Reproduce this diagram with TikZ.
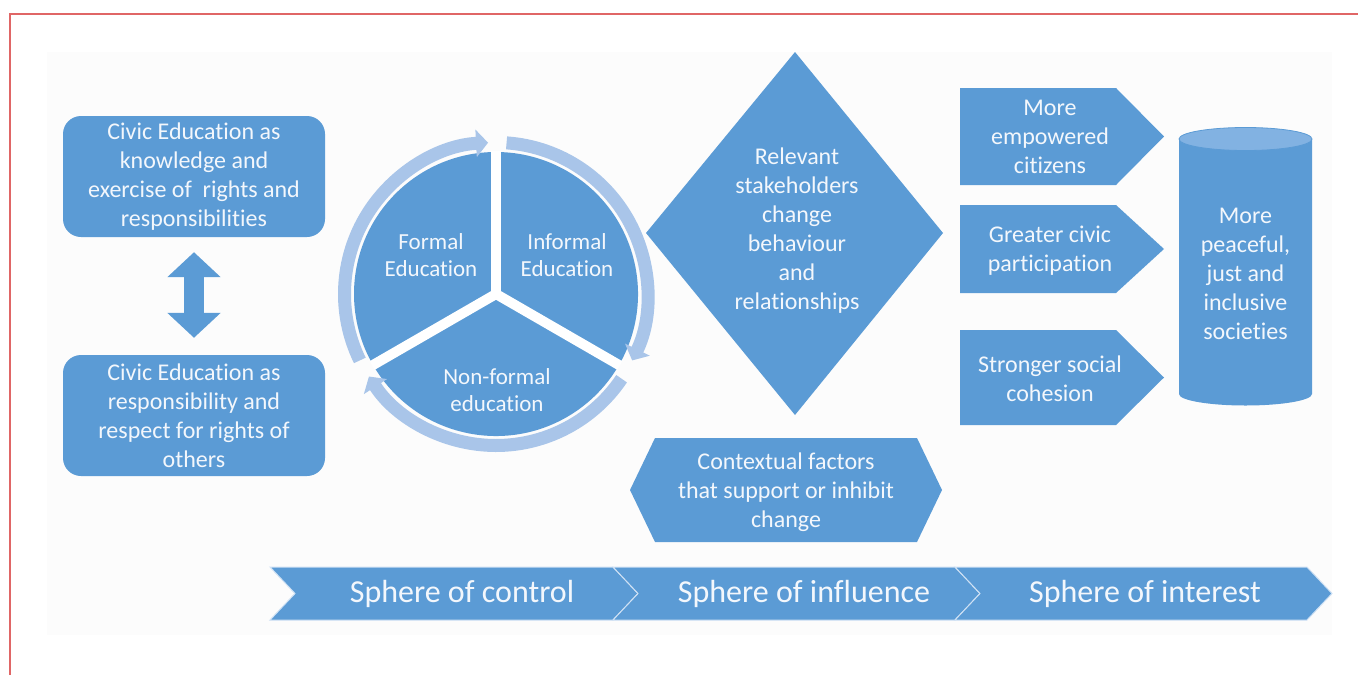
\documentclass[tikz,border=0pt]{standalone}
\usepackage{fontspec}
\setmainfont{Carlito}[RawFeature={-liga;-calt;-clig}]
\usetikzlibrary{arrows.meta,calc}
\definecolor{mainblue}{HTML}{5B9BD5}
\definecolor{ringblue}{HTML}{A9C5E9}
\definecolor{topblue}{HTML}{82B2E2}
\definecolor{txtwhite}{HTML}{F3F7FC}
\definecolor{frame}{HTML}{E06666}
\definecolor{bgcol}{HTML}{FCFCFC}
\definecolor{sepcol}{HTML}{CFE1F4}
\begin{document}
\begin{tikzpicture}[x=1pt,y=-1pt,
  txt/.style={text=txtwhite, font=\fontsize{24}{29}\selectfont, align=center, inner sep=0pt},
  pietxt/.style={txt, font=\fontsize{23}{27}\selectfont},
  bigtxt/.style={txt, font=\fontsize{32}{36}\selectfont},
  rbox/.style={txt, fill=mainblue, rounded corners=18pt, minimum width=262pt, minimum height=121pt},
  shapefill/.style={fill=mainblue},
  chev/.style={fill=mainblue, draw=sepcol, line width=1pt},
  ringarc/.style={draw=ringblue, line width=13pt, -{Triangle[length=12pt,width=27pt]}},
  dbl/.style={draw=mainblue, line width=20pt, {Triangle[length=25pt,width=52pt]}-{Triangle[length=25pt,width=52pt]}},
  gapline/.style={draw=white, line width=10pt}
]
\useasboundingbox (0,0) rectangle (1358,675);
% background and frame
\fill[bgcol] (47,52) rectangle (1332,635);
\draw[frame, line width=1.6pt] (10,675) -- (10,14) -- (1358,14);

% left boxes
\node[rbox] (know) at (194,176.5) {Civic Education as\\knowledge and\\exercise of~ rights and\\responsibilities};
\node[rbox] (resp) at (194,415.5) {Civic Education as\\responsibility and\\respect for rights of\\others};
\draw[dbl, shorten <=15pt, shorten >=17pt] (know.south) -- (resp.north);

% cycle
\coordinate (c) at (496,294);
\fill[mainblue] (c) -- ($(c)+(90:142pt)$) arc[start angle=90,end angle=210,radius=142pt] -- cycle;
\fill[mainblue] (c) -- ($(c)+(-30:142pt)$) arc[start angle=-30,end angle=90,radius=142pt] -- cycle;
\fill[mainblue] (c) -- ($(c)+(210:142pt)$) arc[start angle=210,end angle=330,radius=142pt] -- cycle;
\draw[gapline] (c) -- ($(c)+(90:143pt)$);
\draw[gapline] (c) -- ($(c)+(210:143pt)$);
\draw[gapline] (c) -- ($(c)+(-30:143pt)$);
\draw[ringarc] ($(c)+(206:151.5pt)$) arc[start angle=206,end angle=93,radius=151.5pt];
\draw[ringarc] ($(c)+(86:151.5pt)$) arc[start angle=86,end angle=-26,radius=151.5pt];
\draw[ringarc] ($(c)+(-34:151.5pt)$) arc[start angle=-34,end angle=-147,radius=151.5pt];
\node[pietxt] (formal) at (431,255) {Formal\\Education};
\node[pietxt] (informal) at (567,255) {Informal\\Education};
\node[pietxt] (nonformal) at (497,390) {Non-formal\\education};

% diamond
\fill[shapefill] (795,52) -- (943,233) -- (795,415) -- (646,233) -- cycle;
\node[txt] (stake) at (797,230.5) {Relevant\\stakeholders\\change\\behaviour\\and\\relationships};

% hexagon
\fill[shapefill] (630,490) -- (655,438) -- (917,438) -- (942,490) -- (917,542) -- (655,542) -- cycle;
\node[txt] (context) at (786,492) {Contextual factors\\that support or inhibit\\change};

% outcome pentagons
\fill[shapefill] (960,88) -- (1116,88) -- (1164,136.5) -- (1116,185) -- (960,185) -- cycle;
\node[txt] (empow) at (1050,137) {More\\empowered\\citizens};
\fill[shapefill] (960,205) -- (1116,205) -- (1164,249) -- (1116,293) -- (960,293) -- cycle;
\node[txt] (partic) at (1050,250.5) {Greater civic\\participation};
\fill[shapefill] (960,330) -- (1116,330) -- (1164,377.5) -- (1116,425) -- (960,425) -- cycle;
\node[txt] (cohes) at (1050,378.5) {Stronger social\\cohesion};

% cylinder
\fill[mainblue] (1179,139) -- (1179,394) arc[start angle=180,end angle=360,x radius=66.5pt,y radius=11.5pt] -- (1312,139) -- cycle;
\filldraw[fill=topblue, draw=mainblue, line width=0.8pt] (1245.5,139) ellipse[x radius=66.5pt, y radius=11.5pt];
\node[txt] (soc) at (1245.5,274) {More\\peaceful,\\just and\\inclusive\\societies};

% spheres band
\filldraw[chev] (270,567) -- (613,567) -- (638,593.5) -- (613,620) -- (270,620) -- (295,593.5) -- cycle;
\filldraw[chev] (613,567) -- (955,567) -- (980,593.5) -- (955,620) -- (613,620) -- (638,593.5) -- cycle;
\filldraw[chev] (955,567) -- (1307,567) -- (1332,593.5) -- (1307,620) -- (955,620) -- (980,593.5) -- cycle;
\node[bigtxt] (control) at (462,593.5) {Sphere of control};
\node[bigtxt] (influence) at (804,593.5) {Sphere of influence};
\node[bigtxt] (interest) at (1145,593.5) {Sphere of interest};
\end{tikzpicture}
\end{document}
